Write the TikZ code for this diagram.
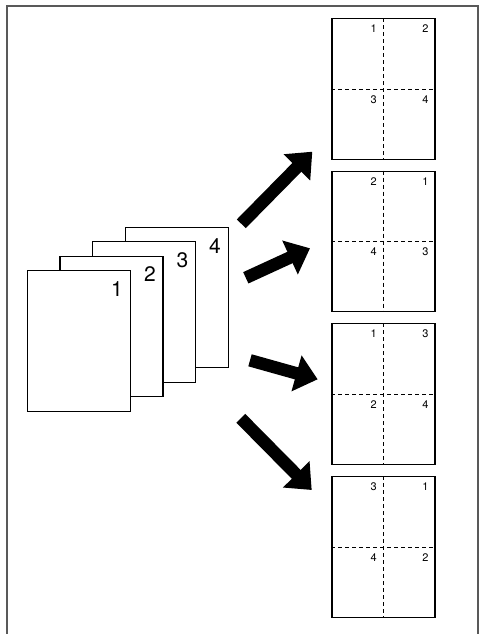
\documentclass[tikz,border=0pt]{standalone}
\usepackage{fontspec}
\setmainfont{TeX Gyre Heros}
\usetikzlibrary{arrows.meta}

\begin{document}
\begin{tikzpicture}[x=1pt, y=-1pt,
    sheet/.style={draw, fill=white, line width=1.4pt, inner sep=0pt,
        minimum width=103pt, minimum height=140.5pt},
    bignum/.style={font=\fontsize{21}{21}\selectfont},
    smallnum/.style={font=\fontsize{11}{11}\selectfont},
    fold/.style={line width=0.9pt, dash pattern=on 4pt off 3pt},
    bigarrow/.style={line width=12.5pt, -{Triangle[length=22pt, width=36pt]}}]

    \useasboundingbox (0,0) rectangle (482,634);
    \draw[black!65, line width=2pt] (6.7,5.7) rectangle (478.3,645);

    % stack of originals, back to front
    \node[sheet] (p4) at (176.8,297.5) {};
    \node[bignum] (n4) at (215,246.5) {4};
    \node[sheet] (p3) at (144.2,312) {};
    \node[bignum] (n3) at (182.5,260.5) {3};
    \node[sheet] (p2) at (111.6,326.5) {};
    \node[bignum] (n2) at (150,274.5) {2};
    \node[sheet] (p1) at (79,341) {};
    \node[bignum] (n1) at (117,289) {1};

    % 4-up results
    \node[sheet] (ra) at (383.3,89) {};
    \node[sheet] (rb) at (383.3,241.5) {};
    \node[sheet] (rc) at (383.3,394) {};
    \node[sheet] (rd) at (383.3,547) {};

    \foreach \r/\a/\b/\c/\d in {ra/1/2/3/4, rb/2/1/4/3, rc/1/3/2/4, rd/3/1/4/2} {
        \draw[fold] (\r.north) -- (\r.south);
        \draw[fold] (\r.west) -- (\r.east);
        \node[smallnum] at ([xshift=-9.5pt, yshift=-11pt]\r.north) {\a};
        \node[smallnum] at ([xshift=-10pt, yshift=-11pt]\r.north east) {\b};
        \node[smallnum] at ([xshift=-9.5pt, yshift=-10.5pt]\r.center) {\c};
        \node[smallnum] at ([xshift=-10pt, yshift=-10.5pt]\r.east) {\d};
    }

    % arrow ends
    \coordinate (t1) at (241.3,223.8);
    \coordinate (h1) at (312.3,151.7);
    \coordinate (t2) at (245.8,277.8);
    \coordinate (h2) at (310,248.3);
    \coordinate (t3) at (250,360.3);
    \coordinate (h3) at (317.7,379.3);
    \coordinate (t4) at (240.8,418.3);
    \coordinate (h4) at (311.7,490);

    \draw[bigarrow] (t1) -- (h1);
    \draw[bigarrow] (t2) -- (h2);
    \draw[bigarrow] (t3) -- (h3);
    \draw[bigarrow] (t4) -- (h4);
\end{tikzpicture}
\end{document}
